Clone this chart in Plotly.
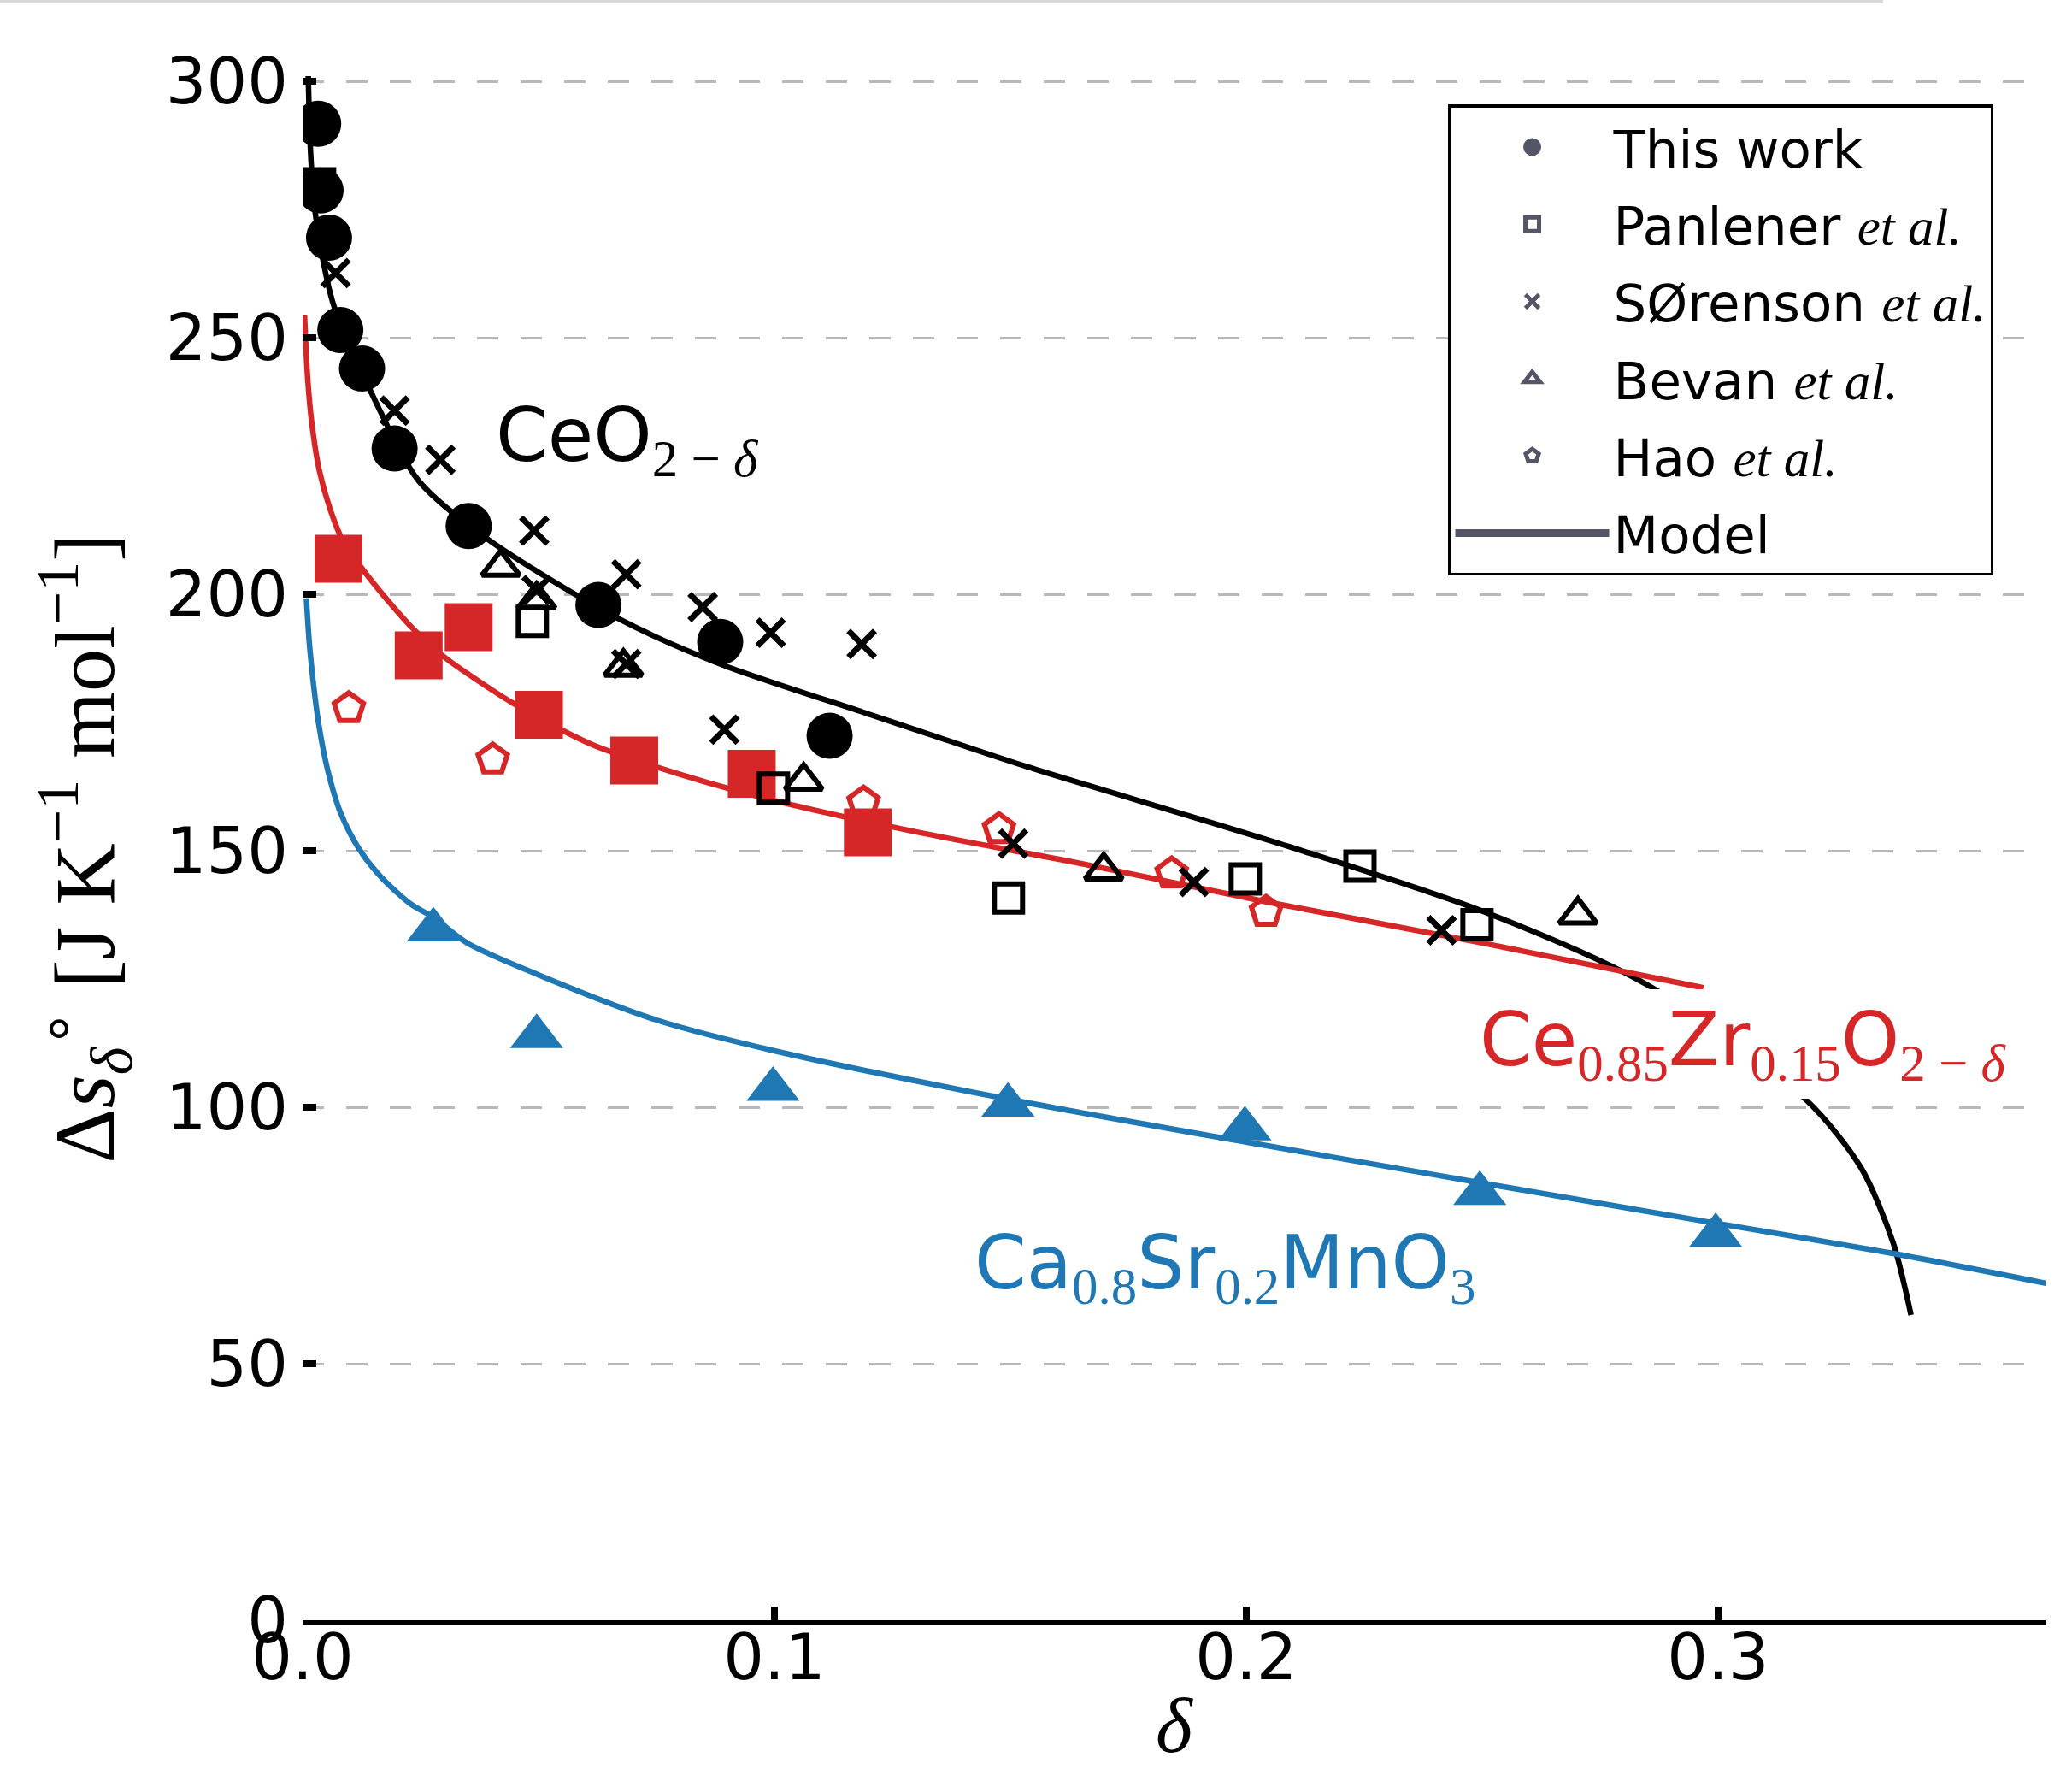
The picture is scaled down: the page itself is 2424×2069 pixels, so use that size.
import plotly.graph_objects as go

# ---------------- data ----------------
# This work, CeO2-delta (filled black circles)
this_work_x = [0.0033, 0.0038, 0.0056, 0.0080, 0.0126, 0.0195, 0.0352, 0.0627, 0.0885, 0.1117]
this_work_y = [291.7, 278.7, 269.5, 251.5, 244.0, 228.4, 213.3, 197.9, 190.7, 172.4]

# Panlener et al. (open squares)
panlener_x = [0.0036, 0.0487, 0.0998, 0.1496, 0.1998, 0.2241, 0.2489]
panlener_y = [280.0, 194.7, 162.2, 140.8, 144.5, 147.0, 135.6]

# Sorenson et al. (x)
sorenson_x = [0.0070, 0.0195, 0.0292, 0.0491, 0.0496, 0.0686, 0.0848, 0.0992, 0.1185,
              0.0686, 0.0894, 0.1506, 0.1889, 0.2414]
sorenson_y = [262.6, 235.8, 226.2, 212.4, 200.8, 203.9, 197.5, 192.5, 190.3,
              186.4, 173.6, 151.4, 143.9, 134.5]

# Bevan et al. (open triangles)
bevan_x = [0.0420, 0.0496, 0.0680, 0.1062, 0.1698, 0.2703]
bevan_y = [205.3, 198.9, 185.8, 163.6, 146.1, 137.5]

# Hao et al. (open red pentagons, Ce0.85Zr0.15O2-delta)
hao_x = [0.0098, 0.0403, 0.1189, 0.1476, 0.1842, 0.2042]
hao_y = [177.8, 167.8, 159.4, 154.2, 145.6, 138.1]

# This work, Ce0.85Zr0.15O2-delta (filled red squares)
czo_x = [0.0076, 0.0246, 0.0352, 0.0501, 0.0703, 0.0952, 0.1198]
czo_y = [206.9, 188.1, 193.6, 176.5, 167.6, 165.0, 153.6]

# This work, Ca0.8Sr0.2MnO3 (filled blue triangles)
csm_x = [0.0277, 0.0496, 0.0997, 0.1495, 0.1997, 0.2495, 0.2995]
csm_y = [134.6, 113.8, 103.5, 100.4, 95.8, 83.2, 75.0]

# Model curves
ceo2_model_x = [0.0012, 0.0017, 0.0026, 0.0043, 0.0066, 0.0154, 0.0246, 0.0391, 0.0668,
                0.0888, 0.1188, 0.1351, 0.1535, 0.2091, 0.2507, 0.2853, 0.3186, 0.3303,
                0.3371, 0.3409]
ceo2_model_y = [301.0, 286.0, 275.0, 265.2, 256.3, 237.7, 222.1, 210.8, 195.3,
                186.3, 177.0, 172.0, 166.4, 150.8, 138.0, 123.7, 101.5, 88.2,
                73.6, 59.5]

czo_model_x = [0.0004, 0.0011, 0.0020, 0.0035, 0.0059, 0.0086, 0.0132, 0.0186, 0.0234,
               0.0301, 0.0397, 0.0449, 0.0611, 0.0807, 0.1004, 0.1304, 0.1650, 0.2045,
               0.2507, 0.2969]
czo_model_y = [254.4, 241.7, 233.0, 224.3, 216.4, 210.3, 204.3, 198.2, 193.3,
               187.7, 181.6, 178.6, 170.8, 164.7, 159.7, 153.6, 147.5, 140.0,
               131.9, 123.3]

csm_model_x = [0.0008, 0.0014, 0.0023, 0.0035, 0.0053, 0.0080, 0.0120, 0.0168, 0.0228,
               0.0277, 0.0349, 0.0500, 0.0750, 0.1000, 0.1500, 0.2000, 0.2257, 0.2495,
               0.2995, 0.3371, 0.3695]
csm_model_y = [199.2, 190.8, 182.5, 174.2, 165.8, 157.5, 150.3, 144.7, 139.7,
               137.0, 132.0, 125.8, 117.0, 111.0, 101.5, 93.2, 89.1, 85.3,
               77.4, 71.5, 65.7]

# axes
x_ticks = [0.0, 0.1, 0.2, 0.3]
y_ticks = [0, 50, 100, 150, 200, 250, 300]
x_range = [0.0, 0.3694]
y_range = [0.0, 301.0]

legend_names = ["This work", "Panlener", "SØrenson", "Bevan", "Hao", "Model"]

# ---------------- styling ----------------
BLACK = "#000000"
RED = "#d62728"
BLUE = "#1f77b4"
LEG = "#555568"
SERIF = "Liberation Serif"
SANS = "DejaVu Sans"


def mathsub(t):
    return '<sub><span style="font-family:Liberation Serif">' + t + '</span></sub>'


etal = ' <span style="font-family:Liberation Serif"><i>et al.</i></span>'

fig = go.Figure()

# model lines
for mx, my, col in [(ceo2_model_x, ceo2_model_y, BLACK),
                    (czo_model_x, czo_model_y, RED),
                    (csm_model_x, csm_model_y, BLUE)]:
    fig.add_trace(go.Scatter(x=mx, y=my, mode="lines",
                             line=dict(color=col, width=6.5, shape="spline", smoothing=0.8),
                             showlegend=False, hoverinfo="skip"))

# data markers
fig.add_trace(go.Scatter(x=czo_x, y=czo_y, mode="markers", showlegend=False,
                         marker=dict(symbol="square", size=56, color=RED)))
fig.add_trace(go.Scatter(x=csm_x, y=csm_y, mode="markers", showlegend=False,
                         marker=dict(symbol="triangle-up", size=54, color=BLUE)))
fig.add_trace(go.Scatter(x=hao_x, y=hao_y, mode="markers", showlegend=False,
                         marker=dict(symbol="pentagon-open", size=36, color=RED,
                                     line=dict(color=RED, width=6))))
fig.add_trace(go.Scatter(x=this_work_x, y=this_work_y, mode="markers", showlegend=False,
                         marker=dict(symbol="circle", size=54, color=BLACK)))
fig.add_trace(go.Scatter(x=panlener_x, y=panlener_y, mode="markers", showlegend=False,
                         marker=dict(symbol="square-open", size=33, color=BLACK,
                                     line=dict(color=BLACK, width=6))))
fig.add_trace(go.Scatter(x=sorenson_x, y=sorenson_y, mode="markers", showlegend=False,
                         marker=dict(symbol="x-thin-open", size=31, color=BLACK,
                                     line=dict(color=BLACK, width=7))))
fig.add_trace(go.Scatter(x=bevan_x, y=bevan_y, mode="markers", showlegend=False,
                         marker=dict(symbol="triangle-up-open", size=38, color=BLACK,
                                     line=dict(color=BLACK, width=6))))

# legend entries (grey proxies, as in the reference)
legend_specs = [
    (legend_names[0], "circle"),
    (legend_names[1] + etal, "square-open"),
    (legend_names[2] + etal, "x-thin-open"),
    (legend_names[3] + etal, "triangle-up-open"),
    (legend_names[4] + etal, "pentagon-open"),
]
for i, (nm, sym) in enumerate(legend_specs):
    fig.add_trace(go.Scatter(x=[None], y=[None], mode="markers", name=nm,
                             marker=dict(symbol=sym, size=16, color=LEG,
                                         line=dict(color=LEG, width=5)),
                             legendgroup="g%d" % i))
fig.add_trace(go.Scatter(x=[None], y=[None], mode="lines", name=legend_names[5],
                         line=dict(color=LEG, width=9), legendgroup="g5"))

# in-plot labels
label_font = dict(family=SANS, size=87)
fig.add_annotation(x=0.0405, y=230.2, xref="x", yref="y", xanchor="left", yanchor="middle",
                   text="CeO" + mathsub("2 − <i>δ</i>"), showarrow=False,
                   font=dict(label_font, color=BLACK))
fig.add_annotation(x=0.2480, y=112.4, xref="x", yref="y", xanchor="left", yanchor="middle",
                   text="Ce" + mathsub("0.85") + "Zr" + mathsub("0.15") + "O" + mathsub("2 − <i>δ</i>"),
                   showarrow=False, bgcolor="white", borderpad=8, borderwidth=0,
                   font=dict(label_font, color=RED))
fig.add_annotation(x=0.1420, y=68.9, xref="x", yref="y", xanchor="left", yanchor="middle",
                   text="Ca" + mathsub("0.8") + "Sr" + mathsub("0.2") + "MnO" + mathsub("3"),
                   showarrow=False, font=dict(label_font, color=BLUE))

# faint screenshot edge line at the very top of the image
fig.add_shape(type="line", xref="paper", yref="paper",
              x0=-354 / 2039, x1=(2203 - 354) / 2039,
              y0=(1895 - 2) / 1806, y1=(1895 - 2) / 1806,
              line=dict(color="#d9d9d9", width=4), layer="above")

fig.update_layout(
    width=2424, height=2069,
    margin=dict(l=354, r=31, t=89, b=174, autoexpand=False),
    paper_bgcolor="white", plot_bgcolor="white",
    font=dict(family=SANS, color=BLACK),
    showlegend=True,
    legend=dict(x=0.6572, y=0.9816, xanchor="left", yanchor="top",
                bgcolor="white", bordercolor=BLACK, borderwidth=3.5,
                font=dict(family=SANS, size=61, color=BLACK),
                itemwidth=180, tracegroupgap=8, traceorder="grouped"),
)

fig.update_xaxes(range=x_range, tickvals=x_ticks, ticktext=["%.1f" % v for v in x_ticks],
                 showgrid=False, zeroline=False, automargin=False,
                 showline=True, linecolor=BLACK, linewidth=4.5,
                 ticks="inside", ticklen=16, tickwidth=8, tickcolor=BLACK,
                 tickfont=dict(family=SANS, size=75, color=BLACK),
                 ticklabelstandoff=-26,
                 title=dict(text="<i>δ</i>", font=dict(family=SERIF, size=92, color=BLACK),
                            standoff=46))

fig.update_yaxes(range=y_range, tickvals=y_ticks, ticktext=[str(v) for v in y_ticks],
                 showgrid=True, gridcolor="#b9b9b9", gridwidth=2.7, griddash="25px,26px",
                 zeroline=False, showline=False, automargin=False,
                 ticks="inside", ticklen=16, tickwidth=8, tickcolor=BLACK,
                 tickfont=dict(family=SANS, size=75, color=BLACK),
                 ticklabelstandoff=16,
                 title=dict(text="Δ<i>s</i><sub><i>δ</i></sub><sup>∘</sup> [J K<sup>−1</sup> mol<sup>−1</sup>]",
                            font=dict(family=SERIF, size=100, color=BLACK), standoff=26))

fig.write_html("out.html")
